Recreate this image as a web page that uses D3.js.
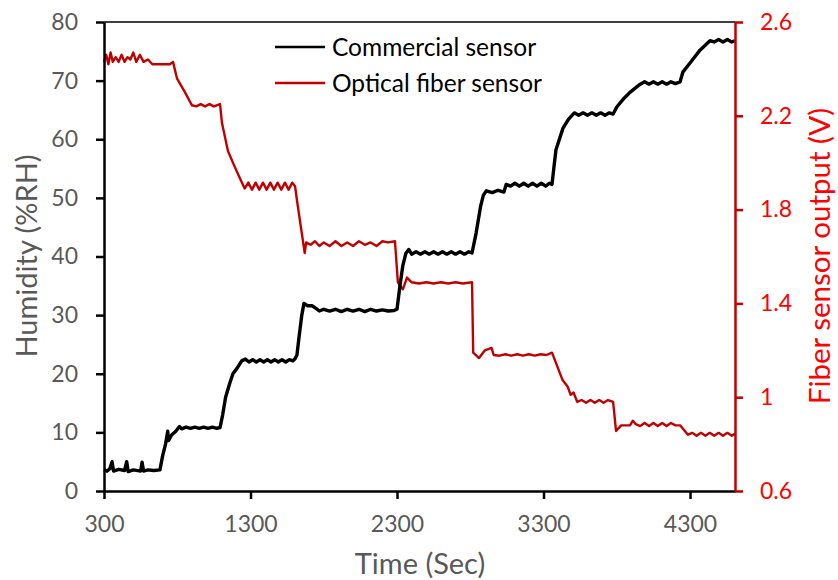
<!DOCTYPE html>
<html>
<head>
<meta charset="utf-8">
<script src="https://d3js.org/d3.v7.min.js"></script>
<style>
  body { margin: 0; background: #fff; }
  svg { font-family: Lato, "Open Sans", sans-serif; }
</style>
</head>
<body>
<svg width="838" height="580"></svg>
<script>
// commercial sensor: time (s) and humidity (%RH)
var comTime = [300, 320, 340, 355, 365, 400, 440, 455, 465, 500, 550, 560, 570, 600, 640, 682,
  700, 720, 735, 740, 760, 790, 815, 830, 860, 890, 920, 950, 980, 1010, 1040, 1070, 1092,
  1110, 1130, 1160, 1180, 1210, 1240, 1265, 1290, 1315, 1340, 1365, 1390, 1415, 1440, 1465, 1490, 1515, 1540, 1565, 1590, 1605, 1617,
  1630, 1650, 1665, 1690, 1720, 1745, 1770, 1800, 1840, 1880, 1920, 1960, 2000, 2040, 2080, 2120, 2160, 2200, 2240, 2280, 2300,
  2320, 2340, 2360, 2380, 2400, 2430, 2460, 2490, 2520, 2550, 2580, 2610, 2640, 2670, 2700, 2730, 2760, 2790, 2812,
  2840, 2870, 2890, 2910, 2950, 2990, 3030, 3045, 3075, 3105, 3135, 3165, 3195, 3225, 3255, 3285, 3315, 3340, 3358,
  3370, 3385, 3433, 3470, 3510, 3540, 3570, 3600, 3630, 3660, 3690, 3720, 3750, 3775,
  3800, 3850, 3890, 3960, 3990, 4020, 4050, 4080, 4110, 4140, 4170, 4200, 4232,
  4252, 4300, 4368, 4436, 4465, 4495, 4525, 4555, 4585, 4607];
var comRH = [3.6, 3.4, 3.8, 5.0, 3.4, 3.7, 3.5, 5.0, 3.3, 3.6, 3.4, 4.9, 3.4, 3.6, 3.5, 3.6,
  6, 8, 10.2, 8.6, 9.5, 10.2, 11.0, 10.6, 10.9, 10.7, 10.9, 10.7, 10.9, 10.7, 10.9, 10.7, 10.8,
  13, 16, 18.5, 20, 21, 22.2, 22.5, 22.0, 22.4, 22.0, 22.4, 22.0, 22.4, 22.0, 22.4, 22.0, 22.4, 22.0, 22.4, 22.2, 22.6, 23.2,
  26, 30, 32.0, 31.6, 31.6, 31.2, 30.7, 31.0, 30.7, 31.0, 30.6, 31.0, 30.7, 31.0, 30.6, 31.0, 30.7, 30.9, 30.7, 30.8, 31.0,
  35, 38.5, 40.5, 41.2, 40.4, 40.8, 40.4, 40.8, 40.4, 40.8, 40.4, 40.8, 40.4, 40.8, 40.4, 40.8, 40.4, 40.8, 40.6,
  44, 48.5, 50.5, 51.2, 50.9, 51.3, 51.0, 52.3, 52.0, 52.5, 52.0, 52.5, 52.0, 52.5, 52.0, 52.5, 52.0, 52.5, 52.3,
  55, 58.2, 61.9, 63.4, 64.5, 64.1, 64.5, 64.1, 64.5, 64.1, 64.5, 64.1, 64.5, 64.3,
  65.5, 67, 68, 69.4, 69.8, 69.4, 69.8, 69.4, 69.8, 69.4, 69.8, 69.5, 69.8,
  71.5, 73, 75.2, 76.8, 76.6, 77.0, 76.6, 77.0, 76.6, 76.8];

// optical fiber sensor: time (s) and output (V)
var fibTime = [300, 315, 330, 345, 360, 380, 400, 420, 440, 460, 480, 500, 520, 545, 570, 600, 630, 662, 700, 750, 771,
  798, 853, 900, 930, 960, 990, 1020, 1050, 1092,
  1105, 1146, 1194, 1230, 1260, 1285, 1310, 1335, 1360, 1385, 1410, 1435, 1460, 1485, 1510, 1535, 1560, 1585, 1604,
  1617, 1650, 1670, 1680, 1710, 1740, 1770, 1800, 1840, 1880, 1920, 1960, 2000, 2040, 2080, 2120, 2160, 2200, 2240, 2286,
  2306, 2340, 2368, 2400, 2450, 2500, 2550, 2600, 2650, 2700, 2750, 2812,
  2820, 2860, 2900, 2945, 2960, 3000, 3040, 3080, 3120, 3160, 3200, 3240, 3280, 3320, 3358,
  3430, 3465, 3485, 3505, 3530, 3560, 3590, 3620, 3650, 3680, 3710, 3740, 3775,
  3795, 3830, 3890, 3910, 3930, 3960, 3990, 4020, 4050, 4080, 4110, 4140, 4170, 4200, 4232,
  4286, 4315, 4345, 4375, 4405, 4435, 4465, 4495, 4525, 4555, 4585, 4607];
var fibV = [2.43, 2.46, 2.42, 2.47, 2.43, 2.45, 2.43, 2.46, 2.43, 2.45, 2.44, 2.47, 2.43, 2.46, 2.43, 2.44, 2.42, 2.42, 2.42, 2.42, 2.43,
  2.36, 2.30, 2.245, 2.24, 2.25, 2.24, 2.25, 2.24, 2.25,
  2.17, 2.05, 1.98, 1.93, 1.89, 1.915, 1.885, 1.915, 1.885, 1.915, 1.885, 1.915, 1.885, 1.915, 1.885, 1.915, 1.885, 1.915, 1.90,
  1.84, 1.70, 1.615, 1.66, 1.65, 1.665, 1.645, 1.66, 1.645, 1.665, 1.645, 1.66, 1.645, 1.665, 1.65, 1.66, 1.645, 1.665, 1.66, 1.665,
  1.49, 1.46, 1.51, 1.49, 1.485, 1.49, 1.485, 1.49, 1.485, 1.49, 1.485, 1.49,
  1.19, 1.167, 1.20, 1.21, 1.18, 1.177, 1.183, 1.177, 1.183, 1.177, 1.183, 1.177, 1.183, 1.18, 1.19,
  1.073, 1.045, 1.01, 1.02, 0.98, 0.988, 0.976, 0.988, 0.976, 0.988, 0.976, 0.988, 0.98,
  0.856, 0.88, 0.88, 0.90, 0.885, 0.877, 0.89, 0.877, 0.89, 0.877, 0.89, 0.877, 0.89, 0.88, 0.88,
  0.84, 0.848, 0.836, 0.848, 0.836, 0.848, 0.836, 0.848, 0.836, 0.848, 0.836, 0.845];

var xTicks = [300, 1300, 2300, 3300, 4300];
var leftTicks = [0, 10, 20, 30, 40, 50, 60, 70, 80];
var rightTicks = [0.6, 1, 1.4, 1.8, 2.2, 2.6];
var seriesNames = ["Commercial sensor", "Optical fiber sensor"];

var svg = d3.select("svg");
var plotLeft = 104, plotRight = 735, plotTop = 22, plotBottom = 491;

var x = d3.scaleLinear().domain([300, 4607]).range([plotLeft, plotRight]);
var yL = d3.scaleLinear().domain([0, 80]).range([plotBottom, plotTop]);
var yR = d3.scaleLinear().domain([0.6, 2.6]).range([plotBottom, plotTop]);

var gray = "#595959", darkRed = "#c00000", red = "#ff0000";

// top border
svg.append("line").attr("x1", plotLeft).attr("x2", plotRight).attr("y1", plotTop).attr("y2", plotTop)
  .attr("stroke", "#000").attr("stroke-width", 1.5);

var comData = comTime.map(function(t, i) { return [t, comRH[i]]; });
var fibData = fibTime.map(function(t, i) { return [t, fibV[i]]; });

svg.append("path").datum(fibData)
  .attr("fill", "none").attr("stroke", darkRed).attr("stroke-width", 2.4)
  .attr("stroke-linejoin", "round")
  .attr("d", d3.line().x(function(d) { return x(d[0]); }).y(function(d) { return yR(d[1]); }));

svg.append("path").datum(comData)
  .attr("fill", "none").attr("stroke", "#000").attr("stroke-width", 3.4)
  .attr("stroke-linejoin", "round")
  .attr("d", d3.line().x(function(d) { return x(d[0]); }).y(function(d) { return yL(d[1]); }));

// axes
var xAxis = svg.append("g").attr("transform", "translate(0," + plotBottom + ")")
  .call(d3.axisBottom(x).tickValues(xTicks).tickSize(8).tickSizeOuter(0).tickPadding(17).tickFormat(d3.format("d")));
xAxis.select(".domain").attr("stroke", "#000").attr("stroke-width", 2.5);
xAxis.selectAll(".tick line").attr("stroke", "#000").attr("stroke-width", 2.5);
xAxis.selectAll(".tick text").attr("fill", gray).attr("font-size", 23).attr("font-family", "Lato");

var lAxis = svg.append("g").attr("transform", "translate(" + plotLeft + ",0)")
  .call(d3.axisLeft(yL).tickValues(leftTicks).tickSize(8).tickSizeOuter(0).tickPadding(18));
lAxis.select(".domain").attr("stroke", "#000").attr("stroke-width", 2.5);
lAxis.selectAll(".tick line").attr("stroke", "#000").attr("stroke-width", 2.5);
lAxis.selectAll(".tick text").attr("fill", gray).attr("font-size", 23).attr("font-family", "Lato");

var rAxis = svg.append("g").attr("transform", "translate(" + plotRight + ",0)")
  .call(d3.axisRight(yR).tickValues(rightTicks).tickSize(8).tickSizeOuter(0).tickPadding(17).tickFormat(d3.format("")));
rAxis.select(".domain").attr("stroke", darkRed).attr("stroke-width", 2.5);
rAxis.selectAll(".tick line").attr("stroke", darkRed).attr("stroke-width", 2.5);
rAxis.selectAll(".tick text").attr("fill", red).attr("font-size", 23).attr("font-family", "Lato");

// axis titles
svg.append("text").attr("x", 420).attr("y", 574).attr("text-anchor", "middle")
  .attr("fill", gray).attr("font-size", 29).text("Time (Sec)");
svg.append("text").attr("transform", "translate(37,256) rotate(-90)").attr("text-anchor", "middle")
  .attr("fill", gray).attr("font-size", 29).text("Humidity (%RH)");
svg.append("text").attr("transform", "translate(830,256) rotate(-90)").attr("text-anchor", "middle")
  .attr("fill", red).attr("font-size", 29.5).text("Fiber sensor output (V)");

// legend
var legend = svg.append("g");
seriesNames.forEach(function(name, i) {
  var ly = 47 + i * 36;
  legend.append("line").attr("x1", 275).attr("x2", 325).attr("y1", ly).attr("y2", ly)
    .attr("stroke", i === 0 ? "#000" : darkRed).attr("stroke-width", 2.5);
  legend.append("text").attr("x", 332).attr("y", ly).attr("dy", "0.35em")
    .attr("fill", "#000").attr("font-size", 24.5).text(name);
});
</script>
</body>
</html>
